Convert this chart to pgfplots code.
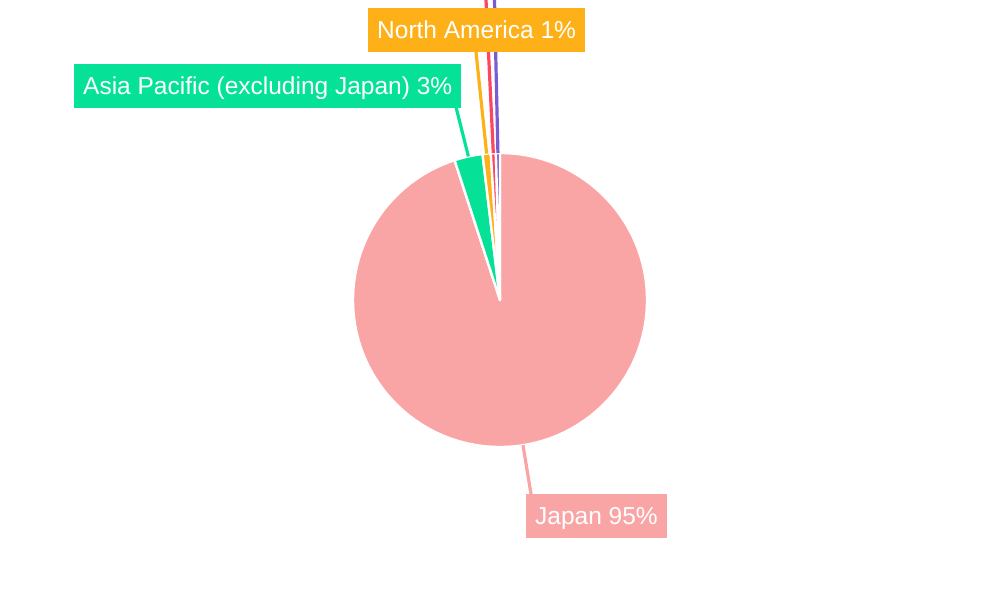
\documentclass[border=0pt]{standalone}
\usepackage{pgfplots}
\pgfplotsset{compat=1.18}
\usepackage{pgfplotstable}
\usepackage{fontspec}
\setmainfont{Liberation Sans}

\definecolor{cJapan}{RGB}{249,165,166}
\definecolor{cAsia}{RGB}{5,226,151}
\definecolor{cNA}{RGB}{254,176,25}
\definecolor{cRed}{RGB}{255,69,96}
\definecolor{cPurple}{RGB}{119,93,208}

\newcommand\labelfont{\fontsize{24.5}{29}\selectfont}

% slices clockwise from 12 o'clock; lx,ly = end of leader line, bx,by = label box corner
\pgfplotstableread[col sep=comma]{
name,value,color,lx,ly,bx,by
Japan,95.0,cJapan,531,106,526,62
Asia Pacific (excluding Japan),3.1,cAsia,456,493,74,492
North America,0.9,cNA,476,548,368,548
Europe,0.55,cRed,486,600,0,0
Other,0.45,cPurple,494.5,600,0,0
}\piedata

\begin{document}
\begin{tikzpicture}
\begin{axis}[
    hide axis,
    x=1pt, y=1pt,
    xmin=0, xmax=1000,
    ymin=0, ymax=600,
    clip=false,
]
% slices
\xdef\startang{90}
\pgfplotsforeachungrouped \i in {0,...,4}{
    \pgfplotstablegetelem{\i}{value}\of\piedata \let\val\pgfplotsretval
    \pgfplotstablegetelem{\i}{color}\of\piedata \let\col\pgfplotsretval
    \pgfmathsetmacro\endang{\startang-3.6*\val}
    \edef\temp{\noexpand\fill[\col, draw=white, line width=2.4pt, line join=round]
        (axis cs:500,300) -- ++(\startang:147pt)
        arc[start angle=\startang, end angle=\endang, radius=147pt] -- cycle;}
    \temp
    \xdef\startang{\endang}
}
% leader lines
\xdef\startang{90}
\pgfplotsforeachungrouped \i in {0,...,4}{
    \pgfplotstablegetelem{\i}{value}\of\piedata \let\val\pgfplotsretval
    \pgfplotstablegetelem{\i}{color}\of\piedata \let\col\pgfplotsretval
    \pgfplotstablegetelem{\i}{lx}\of\piedata \let\lx\pgfplotsretval
    \pgfplotstablegetelem{\i}{ly}\of\piedata \let\ly\pgfplotsretval
    \pgfmathsetmacro\endang{\startang-3.6*\val}
    \pgfmathsetmacro\midang{(\startang+\endang)/2}
    \edef\temp{\noexpand\draw[\col, line width=3.2pt]
        ([shift={(\midang:147pt)}]axis cs:500,300) -- (axis cs:\lx,\ly);}
    \temp
    \xdef\startang{\endang}
}
% label boxes
\pgfplotsforeachungrouped \i in {0,...,2}{
    \pgfplotstablegetelem{\i}{name}\of\piedata \let\nm\pgfplotsretval
    \pgfplotstablegetelem{\i}{value}\of\piedata \let\val\pgfplotsretval
    \pgfplotstablegetelem{\i}{color}\of\piedata \let\col\pgfplotsretval
    \pgfplotstablegetelem{\i}{bx}\of\piedata \let\bx\pgfplotsretval
    \pgfplotstablegetelem{\i}{by}\of\piedata \let\by\pgfplotsretval
    \pgfmathtruncatemacro\pct{round(\val)}
    \edef\temp{\noexpand\node[fill=\col, text=white, anchor=south west,
        inner xsep=9pt, inner ysep=0pt, minimum height=44pt,
        text height=17.5pt, text depth=0pt, font=\noexpand\labelfont]
        at (axis cs:\bx,\by) {\nm\space\pct\noexpand\%};}
    \temp
}
\end{axis}
\pgfresetboundingbox
\useasboundingbox (0,0) rectangle (1000pt,600pt);
\end{tikzpicture}
\end{document}
